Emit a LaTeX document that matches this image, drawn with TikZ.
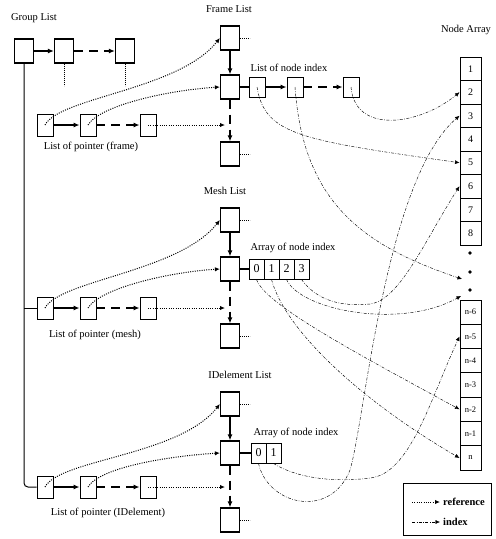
\documentclass[tikz,border=0pt]{standalone}
\usepackage{fontspec}
\setmainfont{Liberation Serif}
\usetikzlibrary{arrows.meta}
\begin{document}
\begin{tikzpicture}[x=1pt,y=-1pt,
  lbox/.style={draw,line width=1.2pt,minimum width=19pt,minimum height=24pt,inner sep=0pt},
  pbox/.style={draw,line width=0.9pt,minimum width=16pt,minimum height=22pt,inner sep=0pt},
  ibox/.style={draw,line width=0.9pt,minimum width=16pt,minimum height=20pt,inner sep=0pt},
  acell/.style={draw,line width=0.9pt,minimum width=15pt,minimum height=20pt,inner sep=0pt,font=\fontsize{12}{12}\selectfont},
  ncell/.style={draw,line width=1pt,minimum width=21pt,minimum height=23.5pt,inner sep=0pt,font=\fontsize{10}{10}\selectfont},
  bcell/.style={draw,line width=1pt,minimum width=21pt,minimum height=24.3pt,inner sep=0pt,font=\fontsize{8.5}{8.5}\selectfont},
  lbl/.style={font=\fontsize{10.5}{10.5}\selectfont,inner sep=0pt},
  link/.style={line width=1.2pt,-{Latex[length=6pt,width=5pt]}},
  dlink/.style={link,dash pattern=on 9pt off 6pt},
  ref/.style={line width=1pt,dash pattern=on 1pt off 1.3pt,-{Latex[length=5pt,width=4.5pt]}},
  idx/.style={line width=0.45pt,dash pattern=on 3pt off 1.5pt on 0.7pt off 1.5pt,-{Latex[length=4.5pt,width=4pt]}},
  more/.style={line width=0.8pt,dash pattern=on 0.8pt off 1.2pt},
]
\useasboundingbox (0,0) rectangle (496,539);

% Group list
\node[lbl] (gl) at (34,18) {Group List};
\node[lbox] (g1) at (24,51) {};
\node[lbox] (g2) at (64,51) {};
\node[lbox] (g3) at (125,51) {};
\draw[link] (g1) -- (g2);
\draw[dlink] (g2) -- (g3);
\draw[more] (g2.south) -- +(0,22);
\draw[more] (g3.south) -- +(0,22);

% three lists with pointer lists
\foreach \p/\ly/\py/\ptxt/\ltxt/\lx/\plx/\pld in
  {f/0/125/frame/Frame List/229/91/22,
   m/182/308/mesh/Mesh List/225/95/27,
   e/366/487/IDelement/IDelement List/240/108/26}{
  \node[lbl] (\p-lab) at (\lx,9+\ly) {\ltxt};
  \node[lbox] (\p-L1) at (230,38+\ly) {};
  \node[lbox] (\p-L2) at (230,87+\ly) {};
  \node[lbox] (\p-L3) at (230,154+\ly) {};
  \draw[link] (\p-L1) -- (\p-L2);
  \draw[dlink] (\p-L2) -- (\p-L3);
  \draw[more] (\p-L1.east) -- +(10,0);
  \draw[more] (\p-L3.east) -- +(10,0);
  \node[pbox] (\p-P1) at (45,\py) {};
  \node[pbox] (\p-P2) at (88,\py) {};
  \node[pbox] (\p-P3) at (148,\py) {};
  \draw[link] (\p-P1) -- (\p-P2);
  \draw[dlink] (\p-P2) -- (\p-P3);
  \node[lbl] (\p-plab) at (\plx,\py+\pld) {List of pointer (\ptxt)};
  \coordinate (\p-T) at (225,\py);
  \draw[ref] (\p-P1.center) .. controls +(15,-28) and +(-41,52) .. (\p-L1.west);
  \draw[ref] (\p-P2.center) .. controls +(12,-20) and +(-50,3) .. (\p-L2.west);
  \draw[ref] (\p-P3.center) -- (\p-T);
}

% group list spine
\draw[line width=1pt,rounded corners=4pt] (g1.south) |- (e-P1.west);
\draw[line width=1pt] (g1.south |- m-P1.west) -- (m-P1.west);

% frame: list of node index
\node[lbl] (fil) at (289,68) {List of node index};
\node[ibox] (f-I1) at (257,87) {};
\node[ibox] (f-I2) at (295,87) {};
\node[ibox] (f-I3) at (351,87) {};
\draw[line width=1.2pt] (f-L2.east) -- (f-I1.west);
\draw[link] (f-I1) -- (f-I2);
\draw[dlink] (f-I2) -- (f-I3);

% mesh: array of node index
\node[lbl] (mal) at (293,248) {Array of node index};
\node[acell] (m-c0) at (256.5,269) {0};
\node[acell] (m-c1) at (271.5,269) {1};
\node[acell] (m-c2) at (286.5,269) {2};
\node[acell] (m-c3) at (301.5,269) {3};
\draw[line width=1.2pt] (m-L2.east) -- (m-c0.west);

% IDelement: array of node index
\node[lbl] (eal) at (296,433) {Array of node index};
\node[acell] (e-c0) at (258.5,453) {0};
\node[acell] (e-c1) at (273.5,453) {1};
\draw[line width=1.2pt] (e-L2.east) -- (e-c0.west);

% node array
\node[lbl] (nal) at (466,30) {Node Array};
\foreach \i in {1,...,8} \node[ncell] (n\i) at (470.5,{45.25+23.5*\i}) {\i};
\foreach \y in {253,272,290} \fill (470,\y) circle (1.8pt);
\foreach \i/\t in {1/n-6,2/n-5,3/n-4,4/n-3,5/n-2,6/n-1,7/n}
  \node[bcell] (b\i) at (470.5,{287.85+24.3*\i}) {\t};
\coordinate (dA) at (462,279);
\coordinate (dB) at (461,296);

% index connectors
\draw[idx] (f-I1.center) .. controls (265,135) and (300,140) .. (n5.west);
\draw[idx] (f-I2.center) .. controls (303,200) and (360,245) .. (dA);
\draw[idx] (f-I3.center) .. controls (355,135) and (420,125) .. (n2.west);
\draw[idx] (m-c0.south) .. controls (265,305) and (360,355) .. (b5.west);
\draw[idx] (m-c1.south) .. controls (285,330) and (360,400) .. (b7.west);
\draw[idx] (m-c2.south) .. controls (300,310) and (400,330) .. (dB);
\draw[idx] (m-c3.south) .. controls (320,305) and (350,306) .. (370,304)
                        .. controls (400,300) and (425,240) .. (n6.west);
\draw[idx] (e-c0.south) .. controls (268,505) and (330,520) .. (350,470)
                        .. controls (365,420) and (385,180) .. (n3.west);
\draw[idx] (e-c1.south) .. controls (300,480) and (340,482) .. (370,478)
                        .. controls (410,474) and (430,400) .. (b2.west);

% legend
\node[draw,line width=1pt,minimum width=88pt,minimum height=52pt,inner sep=0pt] (leg) at (447.5,509.5) {};
\coordinate (la1) at (412,502);
\coordinate (lb1) at (440,502);
\coordinate (la2) at (412,522);
\coordinate (lb2) at (440,522);
\draw[ref] (la1) -- (lb1);
\draw[idx] (la2) -- (lb2);
\node[lbl,anchor=west,font=\bfseries\fontsize{10.5}{10.5}\selectfont] (lt1) at (443,502) {reference};
\node[lbl,anchor=west,font=\bfseries\fontsize{10.5}{10.5}\selectfont] (lt2) at (443,522) {index};
\end{tikzpicture}
\end{document}
